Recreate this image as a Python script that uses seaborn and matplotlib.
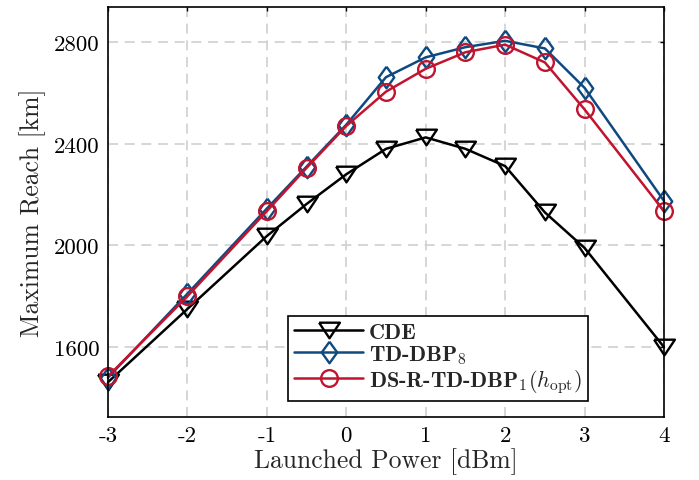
import matplotlib
matplotlib.use("Agg")
from matplotlib import pyplot as plt
import seaborn as sns
import pandas as pd

# launched power in dBm
power = [-3, -2, -1, -0.5, 0, 0.5, 1, 1.5, 2, 2.5, 3, 4]

# maximum reach in km for each scheme
reach_cde = [1462, 1750, 2037, 2163, 2280, 2380, 2425, 2380, 2312, 2130, 1990, 1600]
reach_tddbp = [1480, 1810, 2145, 2310, 2475, 2662, 2740, 2780, 2805, 2775, 2620, 2175]
reach_dsr = [1485, 1800, 2135, 2305, 2470, 2605, 2695, 2760, 2790, 2720, 2535, 2135]

labels = ["CDE", r"TD-DBP$_8$", r"DS-R-TD-DBP$_1(h_{\rm opt})$"]
colors = ["black", "#0e4a80", "#c0142f"]

xticks = [-3, -2, -1, 0, 1, 2, 3, 4]
yticks = [1600, 2000, 2400, 2800]

sns.set_theme(style="white")
plt.rcParams["font.family"] = "cmr10"
plt.rcParams["mathtext.fontset"] = "cm"
plt.rcParams["axes.unicode_minus"] = False
plt.rcParams["axes.formatter.use_mathtext"] = True

df = pd.DataFrame({
    "power": power * 3,
    "reach": reach_cde + reach_tddbp + reach_dsr,
    "scheme": [labels[0]] * len(power) + [labels[1]] * len(power) + [labels[2]] * len(power),
})

# wide, flat triangle and a slightly tall diamond, like the matlab ones
tri = [(-1, 0.75), (1, 0.75), (0, -0.75), (-1, 0.75)]
dia = [(0, 1), (0.72, 0), (0, -1), (-0.72, 0), (0, 1)]
markers = [tri, dia, "o"]
sizes = [15, 15.5, 12]

fig, ax = plt.subplots(figsize=(6.99, 4.81), dpi=100)
fig.subplots_adjust(left=108 / 699, right=664 / 699, top=1 - 8 / 481, bottom=1 - 418 / 481)

for i, lab in enumerate(labels):
    sns.lineplot(data=df[df["scheme"] == lab], x="power", y="reach", ax=ax,
                 color=colors[i], marker=markers[i], markersize=sizes[i],
                 markerfacecolor="none", markeredgecolor=colors[i],
                 markeredgewidth=1.7, linewidth=1.8, label=lab, clip_on=False)

ax.set_xlim(-3, 4)
ax.set_ylim(1325, 2938)
ax.set_xticks(xticks)
ax.set_xticklabels([str(t) for t in xticks])
ax.set_yticks(yticks)
ax.set_yticklabels([str(t) for t in yticks])
ax.tick_params(direction="in", length=3, width=1, top=True, right=True,
               labelsize=16.5, colors="black", pad=6)

ax.grid(True, color="#d0d0d0", linestyle=(0, (6, 4)), linewidth=1.2)
for s in ax.spines.values():
    s.set_color("black")
    s.set_linewidth(1.2)

ax.set_xlabel("Launched Power [dBm]", fontsize=18.5, labelpad=2)
ax.set_ylabel("Maximum Reach [km]", fontsize=18.5, labelpad=6)

leg = ax.legend(loc="lower right", bbox_to_anchor=(0.864, 0.038),
                prop={"family": "cmb10", "size": 16}, frameon=True,
                fancybox=False, edgecolor="black", framealpha=1,
                handlelength=3.1, borderpad=0.3, labelspacing=0.05,
                handletextpad=0.25, borderaxespad=0)
leg.get_frame().set_linewidth(1.2)

plt.savefig("out.png", dpi=100)
